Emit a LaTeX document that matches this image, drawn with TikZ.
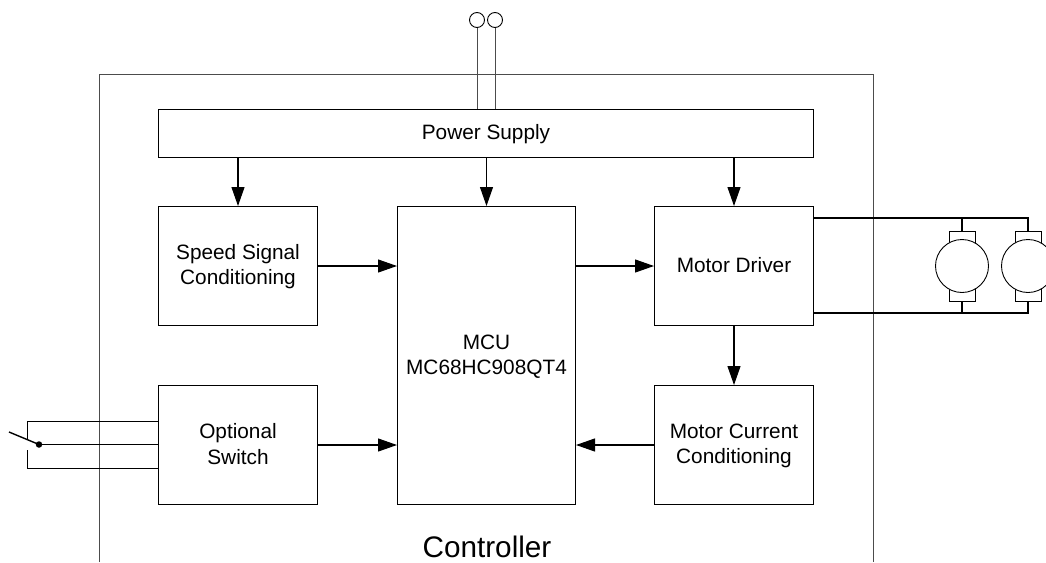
\documentclass[tikz,border=0pt]{standalone}
\usepackage{fontspec}
\setmainfont{Liberation Sans}
\usetikzlibrary{arrows.meta}
\newcommand{\tl}{\rule[-3.5pt]{0pt}{20pt}}
\tikzset{
  x=1pt,y=-1pt,
  block/.style={draw=black,line width=1pt,fill=white,anchor=north west,inner sep=0pt,align=center,font=\fontsize{20.8}{25.5}\selectfont},
  wire/.style={draw=black,line width=1.4pt},
  thinwire/.style={draw=black!70,line width=1pt},
  flow/.style={draw=black,line width=1.1pt,-{Triangle[length=19pt,width=13pt]}},
  brush/.style={draw=black,line width=.9pt,fill=white},
  motor/.style={circle,draw=black,line width=.9pt,fill=white,minimum size=53pt,inner sep=0pt},
  terminal/.style={circle,draw=black,line width=.9pt,fill=white,minimum size=15pt,inner sep=0pt},
  dotnode/.style={circle,fill=black,minimum size=6.5pt,inner sep=0pt}
}
\begin{document}
\begin{tikzpicture}
\useasboundingbox (0,0) rectangle (1046,562);
\clip (0,0) rectangle (1046,562);
% controller frame: open at the bottom
\coordinate (fbl) at (99.5,562);
\coordinate (ftl) at (99.5,74);
\coordinate (ftr) at (873,74);
\coordinate (fbr) at (873,562);
\draw[thinwire] (fbl) -- (ftl) -- (ftr) -- (fbr);
% power terminals
\node[terminal] (t1) at (477,20) {};
\node[terminal] (t2) at (495,20) {};
\node[block,minimum width=655pt,minimum height=48pt] (ps) at (158,109) {\tl Power Supply};
\draw[thinwire] (t1.south) -- (t1.south |- ps.north);
\draw[thinwire] (t2.south) -- (t2.south |- ps.north);
% blocks
\node[block,minimum width=159pt,minimum height=119pt] (speed) at (158,206) {\tl Speed Signal\\\tl Conditioning};
\node[block,minimum width=159pt,minimum height=119pt] (opt) at (158,385) {\tl Optional\\\tl Switch};
\node[block,minimum width=178pt,minimum height=298pt] (mcu) at (397,206) {\tl MCU\\\tl MC68HC908QT4};
\node[block,minimum width=159pt,minimum height=119pt] (drv) at (654,206) {\tl Motor Driver};
\node[block,minimum width=159pt,minimum height=119pt] (cur) at (654,385) {\tl Motor Current\\\tl Conditioning};
\node[anchor=base,font=\fontsize{29.7}{29}\selectfont] (ctl) at (487,557) {Controller};
% flows
\draw[flow] (speed.north |- ps.south) -- (speed.north);
\draw[flow] (mcu.north |- ps.south) -- (mcu.north);
\draw[flow] (drv.north |- ps.south) -- (drv.north);
\draw[flow] (speed.east) -- (speed.east -| mcu.west);
\draw[flow] (opt.east) -- (opt.east -| mcu.west);
\draw[flow] (drv.west -| mcu.east) -- (drv.west);
\draw[flow] (cur.west) -- (cur.west -| mcu.east);
\draw[flow] (drv.south) -- (cur.north);
% switch
\coordinate (swt) at (27.5,421.5);
\coordinate (swb) at (27.5,468.5);
\coordinate (swu) at (27.5,440);
\coordinate (swl) at (27.5,450);
\coordinate (lever) at (9,432);
\node[dotnode] (pivot) at (39,444.5) {};
\draw[wire] (swu) -- (swt) -- (swt -| opt.west);
\draw[wire] (swl) -- (swb) -- (swb -| opt.west);
\draw[wire] (pivot.center) -- (pivot.center -| opt.west);
\draw[wire] (lever) -- (pivot.center);
% motors
\coordinate (rt) at (813,218);
\coordinate (rb) at (813,313);
\coordinate (m1t) at (962,218);
\coordinate (m1b) at (962,313);
\coordinate (m2t) at (1028,218);
\coordinate (m2b) at (1028,313);
\draw[wire] (rt) -- (m2t) -- (m2b) -- (rb);
\draw[wire] (m1t) -- (m1b);
\draw[brush] (949,231) rectangle (975,301);
\draw[brush] (1015,231) rectangle (1041,301);
\node[motor] (m1) at (962,266) {};
\node[motor] (m2) at (1028,266) {};
\end{tikzpicture}
\end{document}
